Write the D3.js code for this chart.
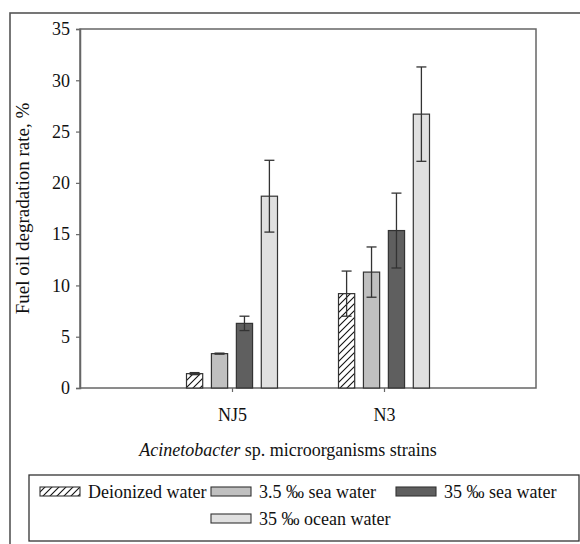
<!DOCTYPE html>
<html><head><meta charset="utf-8">
<script src="https://cdn.jsdelivr.net/npm/d3@7"></script>
</head><body style="margin:0"><svg id="c" width="580" height="544"></svg>
<script>
const categories = ["NJ5", "N3"];
const seriesNames = ["Deionized water", "3.5 \u2030 sea water", "35 \u2030 sea water", "35 \u2030 ocean water"];
const deionized = [1.4, 9.2];
const sea35small = [3.35, 11.3];
const sea35 = [6.3, 15.35];
const ocean35 = [18.7, 26.7];
const errDeionized = [0.1, 2.2];
const errSea35small = [0.05, 2.45];
const errSea35 = [0.7, 3.65];
const errOcean35 = [3.5, 4.6];
const yTicks = [0, 5, 10, 15, 20, 25, 30, 35];

const values = [deionized, sea35small, sea35, ocean35];
const errors = [errDeionized, errSea35small, errSea35, errOcean35];
const fills = ["url(#hatch)", "#c0c0c0", "#5f5f5f", "#e0e0e0"];
const axisColor = "#666";
const FONT = `"Liberation Serif", monospace`;

const svg = d3.select("#c");
const defs = svg.append("defs");
const pat = defs.append("pattern").attr("id", "hatch").attr("patternUnits", "userSpaceOnUse")
  .attr("width", 7).attr("height", 7);
pat.append("rect").attr("width", 7).attr("height", 7).attr("fill", "#fff");
pat.append("path").attr("d", "M-1,8 L8,-1 M-4,4 L4,-4 M3,11 L11,3").attr("stroke", "#111").attr("stroke-width", 1.1);

svg.append("rect").attr("x", 10).attr("y", 13).attr("width", 580).attr("height", 540)
  .attr("fill", "none").attr("stroke", "#555").attr("stroke-width", 1.6);

const L = 80, R = 536, T = 29, B = 388;
const x = d3.scalePoint().domain(categories).range([L, R]).padding(1);
const xs = d3.scaleBand().domain(d3.range(4)).range([0, 91]).paddingInner(0.35);
const y = d3.scaleLinear().domain([0, 35]).range([B, T]);

svg.append("rect").attr("x", L).attr("y", T).attr("width", R - L).attr("height", B - T)
  .attr("fill", "none").attr("stroke", axisColor).attr("stroke-width", 1.5);

const yAxis = svg.append("g").attr("transform", `translate(${L},0)`)
  .call(d3.axisLeft(y).tickValues(yTicks).tickSize(4).tickPadding(6).tickFormat(d3.format("d")));
yAxis.attr("font-family", null).attr("font-size", null);
yAxis.select(".domain").attr("stroke", axisColor).attr("stroke-width", 1.5);
yAxis.selectAll(".tick line").attr("stroke", axisColor).attr("stroke-width", 1.2);
yAxis.selectAll("text").style("font-family", FONT).attr("font-size", 18).attr("fill", "#111");

const xAxis = svg.append("g").attr("transform", `translate(0,${B})`)
  .call(d3.axisBottom(x).tickSize(4).tickPadding(16));
xAxis.attr("font-family", null).attr("font-size", null);
xAxis.select(".domain").remove();
xAxis.selectAll(".tick line").attr("stroke", axisColor).attr("stroke-width", 1.2);
xAxis.selectAll("text").style("font-family", FONT).attr("font-size", 18).attr("fill", "#111");

values.forEach((vals, s) => {
  const g = svg.append("g");
  categories.forEach((c, i) => {
    const bx = x(c) - 45.5 + xs(s);
    g.append("rect").attr("x", bx).attr("y", y(vals[i])).attr("width", xs.bandwidth())
      .attr("height", y(0) - y(vals[i])).attr("fill", fills[s]).attr("stroke", "#333").attr("stroke-width", 1.2);
    const cx = bx + xs.bandwidth() / 2;
    const e = errors[s][i];
    const eg = g.append("g").attr("stroke", "#333").attr("stroke-width", 1.3);
    eg.append("line").attr("x1", cx).attr("x2", cx).attr("y1", y(vals[i] + e)).attr("y2", y(vals[i] - e));
    eg.append("line").attr("x1", cx - 5).attr("x2", cx + 5).attr("y1", y(vals[i] + e)).attr("y2", y(vals[i] + e));
    eg.append("line").attr("x1", cx - 5).attr("x2", cx + 5).attr("y1", y(vals[i] - e)).attr("y2", y(vals[i] - e));
  });
});

svg.append("text").attr("transform", `translate(29,${(T + B) / 2}) rotate(-90)`)
  .style("font-family", FONT).attr("font-size", 19).attr("fill", "#111")
  .attr("text-anchor", "middle").text("Fuel oil degradation rate, %");
const xt = svg.append("text").attr("x", 288).attr("y", 456).attr("text-anchor", "middle")
  .style("font-family", FONT).attr("font-size", 18).attr("fill", "#111");
xt.append("tspan").style("font-style", "italic").text("Acinetobacter");
xt.append("tspan").text(" sp. microorganisms strains");

svg.append("rect").attr("x", 29).attr("y", 475).attr("width", 550).attr("height", 66)
  .attr("fill", "none").attr("stroke", "#333").attr("stroke-width", 1.3);
const legPos = [[40, 492], [211, 492], [396, 492], [211, 519]];
seriesNames.forEach((n, s) => {
  const [lx, ly] = legPos[s];
  svg.append("rect").attr("x", lx).attr("y", ly - 5).attr("width", 40).attr("height", 9)
    .attr("fill", fills[s]).attr("stroke", "#333").attr("stroke-width", 1.1);
  svg.append("text").attr("x", lx + 48).attr("y", ly + 6)
    .style("font-family", FONT).attr("font-size", 18).attr("fill", "#111").text(n);
});
</script></body></html>
